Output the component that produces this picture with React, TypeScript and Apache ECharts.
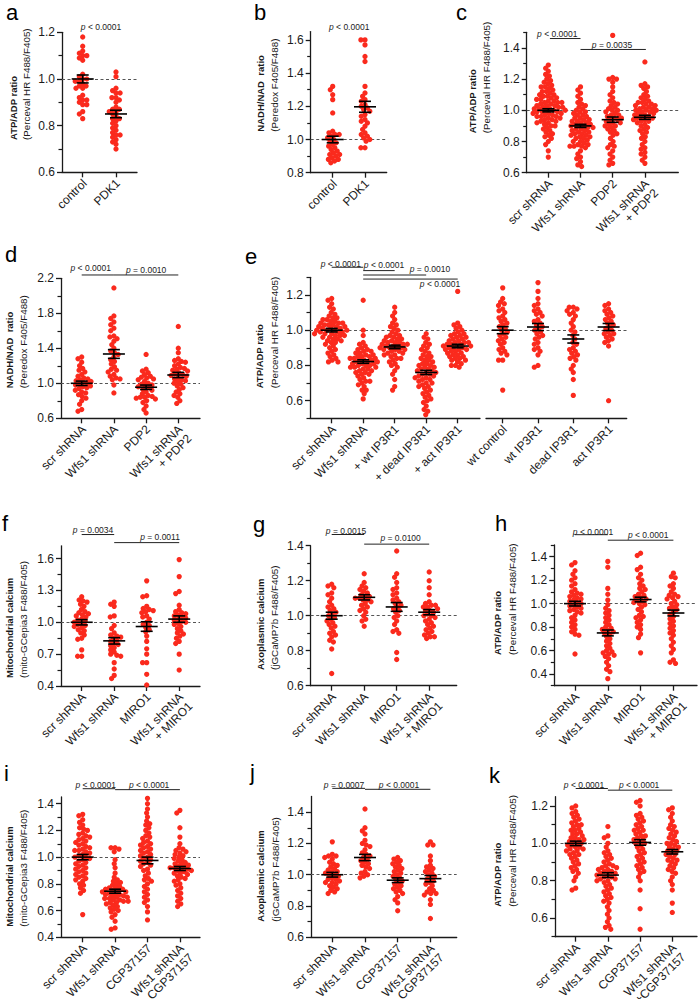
import React, { useEffect, useRef } from "react";
import * as echarts from "echarts";

const FONT = '"Liberation Sans", Arial, Helvetica, sans-serif';
const RED = "#fa2a1d";
const INK = "#1a1a1a";

// ---------------- data ----------------
// panel a
const catsA = ["control", "PDK1"];
const aControl = [1.18, 1.14, 1.12, 1.11, 1.10, 1.10, 1.09, 1.08, 1.02, 1.01, 1.00, 1.00, 0.99, 0.99, 0.98, 0.97, 0.97, 0.96, 0.96, 0.93, 0.92, 0.91, 0.91, 0.90, 0.89, 0.89, 0.86, 0.85, 0.83];
const aPDK1 = [1.03, 1.01, 0.96, 0.95, 0.94, 0.94, 0.92, 0.92, 0.91, 0.90, 0.88, 0.87, 0.87, 0.86, 0.86, 0.85, 0.84, 0.83, 0.83, 0.82, 0.81, 0.80, 0.79, 0.78, 0.77, 0.76, 0.76, 0.75, 0.74, 0.73, 0.72, 0.70];
const meanA = [1.0, 0.85];
const semA = [0.017, 0.016];
const yTicksA = [0.6, 0.8, 1.0, 1.2];
const yMinorA = [0.7, 0.9, 1.1];
const pA = ["p < 0.0001"];

// panel b
const catsB = ["control", "PDK1"];
const bControl = [1.32, 1.30, 1.27, 1.24, 1.16, 1.05, 1.04, 1.03, 1.03, 1.02, 1.01, 1.00, 0.99, 0.98, 0.97, 0.96, 0.95, 0.94, 0.93, 0.92, 0.91, 0.91, 0.90, 0.89, 0.88, 0.88, 0.87, 0.86];
const bPDK1 = [1.60, 1.60, 1.57, 1.50, 1.47, 1.32, 1.28, 1.26, 1.24, 1.23, 1.21, 1.20, 1.19, 1.18, 1.17, 1.15, 1.14, 1.12, 1.11, 1.10, 1.08, 1.06, 1.04, 1.03, 1.02, 1.01, 1.00, 0.99, 0.95, 0.95];
const meanB = [1.0, 1.197];
const semB = [0.02, 0.033];
const yTicksB = [0.8, 1.0, 1.2, 1.4, 1.6];
const yMinorB = [0.9, 1.1, 1.3, 1.5];
const pB = ["p < 0.0001"];

// panel c
const catsC = ["scr shRNA", "Wfs1 shRNA", "PDP2", "Wfs1 shRNA\n+ PDP2"];
const cScr = [1.29, 1.27, 1.25, 1.23, 1.22, 1.20, 1.19, 1.18, 1.17, 1.16, 1.15, 1.15, 1.14, 1.13, 1.12, 1.12, 1.11, 1.10, 1.10, 1.09, 1.09, 1.08, 1.08, 1.07, 1.07, 1.06, 1.06, 1.05, 1.05, 1.05, 1.04, 1.04, 1.03, 1.03, 1.03, 1.02, 1.02, 1.02, 1.01, 1.01, 1.01, 1.00, 1.00, 1.00, 0.99, 0.99, 0.99, 0.98, 0.98, 0.98, 0.97, 0.97, 0.96, 0.96, 0.96, 0.95, 0.95, 0.94, 0.94, 0.93, 0.93, 0.92, 0.92, 0.91, 0.90, 0.90, 0.89, 0.88, 0.87, 0.86, 0.85, 0.84, 0.83, 0.82, 0.80, 0.78, 0.74, 0.70];
const cWfs1 = [1.15, 1.13, 1.11, 1.09, 1.07, 1.05, 1.04, 1.03, 1.02, 1.01, 1.00, 0.99, 0.99, 0.98, 0.97, 0.97, 0.96, 0.95, 0.95, 0.94, 0.94, 0.93, 0.93, 0.92, 0.92, 0.91, 0.91, 0.90, 0.90, 0.90, 0.89, 0.89, 0.88, 0.88, 0.87, 0.87, 0.86, 0.86, 0.85, 0.85, 0.84, 0.84, 0.83, 0.83, 0.82, 0.82, 0.81, 0.80, 0.80, 0.79, 0.78, 0.78, 0.77, 0.77, 0.77, 0.76, 0.74, 0.72, 0.70, 0.69, 0.67, 0.65, 0.64];
const cPDP2 = [1.48, 1.21, 1.20, 1.20, 1.18, 1.15, 1.12, 1.10, 1.08, 1.06, 1.05, 1.04, 1.03, 1.02, 1.01, 1.00, 1.00, 0.99, 0.98, 0.97, 0.97, 0.96, 0.95, 0.95, 0.94, 0.94, 0.93, 0.92, 0.92, 0.91, 0.90, 0.90, 0.89, 0.88, 0.87, 0.86, 0.85, 0.84, 0.82, 0.80, 0.78, 0.77, 0.76, 0.74, 0.72, 0.70, 0.68, 0.66, 0.65];
const cWfs1PDP2 = [1.31, 1.17, 1.16, 1.15, 1.14, 1.12, 1.10, 1.09, 1.08, 1.07, 1.06, 1.05, 1.05, 1.04, 1.04, 1.03, 1.03, 1.02, 1.02, 1.01, 1.01, 1.00, 1.00, 1.00, 0.99, 0.99, 0.98, 0.98, 0.97, 0.97, 0.96, 0.96, 0.95, 0.95, 0.94, 0.94, 0.93, 0.93, 0.92, 0.91, 0.90, 0.89, 0.88, 0.87, 0.86, 0.85, 0.83, 0.82, 0.80, 0.78, 0.76, 0.75, 0.73, 0.72, 0.70, 0.68, 0.66];
const meanC = [1.0, 0.90, 0.94, 0.955];
const semC = [0.01, 0.01, 0.017, 0.013];
const yTicksC = [0.6, 0.8, 1.0, 1.2, 1.4];
const yMinorC = [0.7, 0.9, 1.1, 1.3, 1.5];
const pC = ["p < 0.0001", "p = 0.0035"];

// panel d
const catsD = ["scr shRNA", "Wfs1 shRNA", "PDP2", "Wfs1 shRNA\n+ PDP2"];
const dScr = [1.30, 1.28, 1.24, 1.20, 1.17, 1.15, 1.13, 1.10, 1.08, 1.06, 1.05, 1.04, 1.03, 1.02, 1.01, 1.00, 0.99, 0.98, 0.97, 0.96, 0.95, 0.94, 0.92, 0.90, 0.89, 0.87, 0.85, 0.83, 0.80, 0.76, 0.70, 0.68];
const dWfs1 = [2.09, 1.77, 1.74, 1.70, 1.67, 1.63, 1.60, 1.54, 1.53, 1.51, 1.48, 1.44, 1.40, 1.37, 1.35, 1.33, 1.30, 1.27, 1.25, 1.22, 1.19, 1.16, 1.15, 1.13, 1.10, 1.08, 1.06, 1.05, 1.04, 0.98, 0.89];
const dPDP2 = [1.33, 1.16, 1.14, 1.12, 1.10, 1.08, 1.07, 1.06, 1.05, 1.04, 1.02, 1.00, 0.99, 0.98, 0.97, 0.96, 0.95, 0.93, 0.92, 0.90, 0.88, 0.86, 0.85, 0.84, 0.84, 0.83, 0.82, 0.80, 0.78, 0.74, 0.70, 0.66];
const dWfs1PDP2 = [1.65, 1.40, 1.35, 1.28, 1.26, 1.25, 1.24, 1.22, 1.20, 1.18, 1.17, 1.16, 1.15, 1.14, 1.12, 1.11, 1.10, 1.09, 1.08, 1.07, 1.05, 1.04, 1.03, 1.02, 1.00, 0.99, 0.97, 0.95, 0.93, 0.90, 0.88, 0.86, 0.84, 0.80, 0.77];
const meanD = [1.0, 1.335, 0.955, 1.095];
const semD = [0.025, 0.05, 0.025, 0.03];
const yTicksD = [0.6, 1.0, 1.4, 1.8, 2.2];
const yMinorD = [0.8, 1.2, 1.6, 2.0];
const pD = ["p < 0.0001", "p = 0.0010"];

// panel e (left part: knock-down series, right part: wild type series)
const catsE1 = ["scr shRNA", "Wfs1 shRNA", "+ wt IP3R1", "+ dead IP3R1", "+ act IP3R1"];
const catsE2 = ["wt control", "wt IP3R1", "dead IP3R1", "act IP3R1"];
const eScr = [1.18, 1.17, 1.15, 1.13, 1.12, 1.10, 1.09, 1.08, 1.07, 1.07, 1.06, 1.06, 1.05, 1.05, 1.04, 1.04, 1.04, 1.03, 1.03, 1.03, 1.02, 1.02, 1.02, 1.01, 1.01, 1.01, 1.00, 1.00, 1.00, 1.00, 0.99, 0.99, 0.99, 0.98, 0.98, 0.98, 0.97, 0.97, 0.97, 0.96, 0.96, 0.95, 0.95, 0.94, 0.94, 0.93, 0.93, 0.92, 0.91, 0.90, 0.89, 0.88, 0.87, 0.86, 0.85, 0.84, 0.83, 0.82, 0.82];
const eWfs1 = [1.17, 1.00, 0.97, 0.93, 0.92, 0.91, 0.90, 0.89, 0.89, 0.88, 0.88, 0.87, 0.87, 0.86, 0.86, 0.85, 0.85, 0.85, 0.84, 0.84, 0.84, 0.83, 0.83, 0.83, 0.82, 0.82, 0.82, 0.81, 0.81, 0.81, 0.80, 0.80, 0.80, 0.79, 0.79, 0.79, 0.78, 0.78, 0.77, 0.77, 0.76, 0.76, 0.75, 0.75, 0.74, 0.73, 0.72, 0.71, 0.71, 0.70, 0.69, 0.68, 0.66, 0.66, 0.64, 0.61];
const eWt = [1.13, 1.10, 1.08, 1.06, 1.04, 1.03, 1.02, 1.01, 1.00, 0.99, 0.98, 0.97, 0.97, 0.96, 0.96, 0.95, 0.95, 0.94, 0.94, 0.93, 0.93, 0.93, 0.92, 0.92, 0.92, 0.91, 0.91, 0.91, 0.90, 0.90, 0.90, 0.89, 0.89, 0.89, 0.88, 0.88, 0.87, 0.87, 0.86, 0.86, 0.85, 0.84, 0.84, 0.83, 0.82, 0.81, 0.80, 0.79, 0.77, 0.75, 0.72, 0.68, 0.66];
const eDead = [0.98, 0.96, 0.95, 0.93, 0.92, 0.91, 0.90, 0.89, 0.88, 0.87, 0.86, 0.85, 0.85, 0.84, 0.83, 0.83, 0.82, 0.81, 0.81, 0.80, 0.80, 0.79, 0.79, 0.78, 0.78, 0.77, 0.77, 0.76, 0.76, 0.75, 0.75, 0.74, 0.74, 0.73, 0.73, 0.72, 0.72, 0.71, 0.70, 0.70, 0.69, 0.68, 0.68, 0.67, 0.66, 0.65, 0.64, 0.63, 0.62, 0.61, 0.60, 0.59, 0.57, 0.55, 0.54, 0.52];
const eAct = [1.22, 1.04, 1.03, 1.02, 1.01, 1.00, 0.99, 0.98, 0.98, 0.97, 0.97, 0.96, 0.96, 0.95, 0.95, 0.94, 0.94, 0.93, 0.93, 0.93, 0.92, 0.92, 0.92, 0.91, 0.91, 0.91, 0.90, 0.90, 0.90, 0.89, 0.89, 0.89, 0.88, 0.88, 0.87, 0.87, 0.86, 0.86, 0.85, 0.85, 0.84, 0.84, 0.83, 0.83, 0.82, 0.81, 0.80, 0.80, 0.79];
const eWtControl = [1.24, 1.18, 1.16, 1.15, 1.14, 1.12, 1.11, 1.10, 1.08, 1.07, 1.06, 1.05, 1.04, 1.03, 1.02, 1.01, 1.00, 0.99, 0.98, 0.97, 0.96, 0.95, 0.94, 0.93, 0.92, 0.90, 0.89, 0.88, 0.87, 0.86, 0.83, 0.83, 0.66];
const eWtIP3R1 = [1.27, 1.22, 1.18, 1.15, 1.14, 1.12, 1.11, 1.10, 1.09, 1.08, 1.06, 1.05, 1.04, 1.03, 1.02, 1.01, 1.00, 0.99, 0.98, 0.97, 0.96, 0.95, 0.93, 0.92, 0.90, 0.89, 0.88, 0.86, 0.80, 0.79];
const eDeadIP3R1 = [1.13, 1.13, 1.12, 1.11, 1.10, 1.09, 1.08, 1.06, 1.04, 1.02, 1.00, 0.99, 0.97, 0.95, 0.93, 0.92, 0.90, 0.89, 0.88, 0.87, 0.86, 0.85, 0.84, 0.83, 0.80, 0.78, 0.76, 0.72, 0.63];
const eActIP3R1 = [1.15, 1.14, 1.12, 1.11, 1.10, 1.09, 1.08, 1.07, 1.06, 1.05, 1.04, 1.03, 1.02, 1.01, 1.00, 0.99, 0.98, 0.98, 0.97, 0.96, 0.95, 0.94, 0.93, 0.91, 0.60];
const meanE1 = [1.0, 0.822, 0.905, 0.76, 0.91];
const semE1 = [0.01, 0.01, 0.01, 0.012, 0.01];
const meanE2 = [1.0, 1.018, 0.95, 1.018];
const semE2 = [0.02, 0.02, 0.023, 0.02];
const yTicksE = [0.6, 0.8, 1.0, 1.2];
const yMinorE = [0.5, 0.7, 0.9, 1.1, 1.3];
const pE = ["p < 0.0001", "p < 0.0001", "p = 0.0010", "p < 0.0001"];

// panel f
const catsF = ["scr shRNA", "Wfs1 shRNA", "MIRO1", "Wfs1 shRNA\n+ MIRO1"];
const fScr = [1.24, 1.21, 1.20, 1.19, 1.17, 1.15, 1.12, 1.10, 1.09, 1.08, 1.07, 1.06, 1.05, 1.03, 1.02, 1.01, 1.00, 0.99, 0.98, 0.97, 0.96, 0.95, 0.93, 0.92, 0.90, 0.88, 0.85, 0.84, 0.74, 0.68, 0.68];
const fWfs1 = [1.19, 1.17, 1.15, 1.06, 1.05, 0.97, 0.94, 0.90, 0.88, 0.87, 0.86, 0.85, 0.83, 0.82, 0.80, 0.79, 0.78, 0.76, 0.74, 0.72, 0.70, 0.69, 0.68, 0.62, 0.56, 0.50, 0.47];
const fMIRO1 = [1.39, 1.25, 1.24, 1.15, 1.13, 1.12, 1.11, 1.10, 1.09, 1.06, 1.05, 1.03, 1.00, 0.98, 0.97, 0.95, 0.93, 0.91, 0.87, 0.82, 0.75, 0.70, 0.62, 0.62, 0.51, 0.41];
const fWfs1MIRO1 = [1.59, 1.43, 1.29, 1.27, 1.16, 1.12, 1.10, 1.09, 1.08, 1.07, 1.06, 1.05, 1.04, 1.03, 1.02, 1.01, 1.00, 0.99, 0.98, 0.96, 0.94, 0.92, 0.90, 0.89, 0.87, 0.85, 0.82, 0.80, 0.70, 0.55];
const meanF = [1.0, 0.825, 0.96, 1.03];
const semF = [0.025, 0.03, 0.045, 0.03];
const yTicksF = [0.4, 0.7, 1.0, 1.3, 1.6];
const yMinorF = [0.55, 0.85, 1.15, 1.45];
const pF = ["p = 0.0034", "p = 0.0011"];

// panel g
const catsG = ["scr shRNA", "Wfs1 shRNA", "MIRO1", "Wfs1 shRNA\n+ MIRO1"];
const gScr = [1.18, 1.17, 1.16, 1.13, 1.12, 1.10, 1.08, 1.06, 1.05, 1.04, 1.03, 1.02, 1.01, 1.00, 0.99, 0.98, 0.97, 0.96, 0.95, 0.94, 0.93, 0.91, 0.90, 0.89, 0.88, 0.86, 0.85, 0.81, 0.67];
const gWfs1 = [1.24, 1.19, 1.17, 1.16, 1.15, 1.14, 1.13, 1.12, 1.11, 1.11, 1.10, 1.10, 1.09, 1.09, 1.08, 1.07, 1.06, 1.05, 1.04, 1.03, 1.02, 1.00, 0.98, 0.97, 0.94];
const gMIRO1 = [1.37, 1.24, 1.22, 1.19, 1.16, 1.15, 1.13, 1.12, 1.10, 1.09, 1.08, 1.07, 1.06, 1.05, 1.04, 1.03, 1.02, 1.00, 0.99, 0.97, 0.95, 0.92, 0.91, 0.90, 0.79, 0.75];
const gWfs1MIRO1 = [1.25, 1.20, 1.16, 1.12, 1.08, 1.07, 1.06, 1.06, 1.05, 1.05, 1.04, 1.03, 1.03, 1.02, 1.01, 1.00, 1.00, 0.99, 0.98, 0.97, 0.96, 0.95, 0.94, 0.93, 0.92, 0.91, 0.90, 0.89, 0.88, 0.88, 0.87];
const meanG = [1.0, 1.105, 1.05, 1.02];
const semG = [0.02, 0.015, 0.025, 0.015];
const yTicksG = [0.6, 0.8, 1.0, 1.2, 1.4];
const yMinorG = [0.7, 0.9, 1.1, 1.3];
const pG = ["p = 0.0015", "p = 0.0100"];

// panel h
const catsH = ["scr shRNA", "Wfs1 shRNA", "MIRO1", "Wfs1 shRNA\n+ MIRO1"];
const hScr = [1.35, 1.33, 1.28, 1.25, 1.22, 1.20, 1.17, 1.15, 1.12, 1.10, 1.09, 1.08, 1.07, 1.06, 1.05, 1.04, 1.03, 1.02, 1.01, 1.00, 0.99, 0.98, 0.97, 0.96, 0.95, 0.94, 0.93, 0.92, 0.90, 0.88, 0.86, 0.84, 0.82, 0.80, 0.78, 0.76, 0.74, 0.73, 0.57];
const hWfs1 = [1.36, 1.31, 1.13, 1.08, 1.03, 0.99, 0.96, 0.94, 0.92, 0.90, 0.88, 0.86, 0.84, 0.82, 0.80, 0.79, 0.78, 0.77, 0.76, 0.75, 0.74, 0.72, 0.70, 0.68, 0.66, 0.64, 0.62, 0.60, 0.59, 0.58, 0.57, 0.56, 0.55, 0.53, 0.50, 0.47, 0.44, 0.42, 0.36];
const hMIRO1 = [1.43, 1.41, 1.31, 1.29, 1.25, 1.22, 1.20, 1.17, 1.15, 1.13, 1.12, 1.10, 1.08, 1.07, 1.06, 1.05, 1.04, 1.03, 1.02, 1.01, 1.00, 0.99, 0.97, 0.95, 0.93, 0.90, 0.89, 0.88, 0.86, 0.84, 0.82, 0.80, 0.78, 0.74, 0.71, 0.58];
const hWfs1MIRO1 = [1.26, 1.23, 1.22, 1.17, 1.15, 1.13, 1.10, 1.08, 1.07, 1.06, 1.05, 1.04, 1.02, 1.00, 0.99, 0.97, 0.96, 0.95, 0.93, 0.91, 0.89, 0.87, 0.85, 0.83, 0.81, 0.79, 0.77, 0.75, 0.73, 0.70, 0.67, 0.64, 0.61, 0.58, 0.52, 0.50, 0.49];
const meanH = [1.0, 0.75, 1.035, 0.92];
const semH = [0.02, 0.025, 0.02, 0.025];
const yTicksH = [0.4, 0.6, 0.8, 1.0, 1.2, 1.4];
const yMinorH = [0.3, 0.5, 0.7, 0.9, 1.1, 1.3, 1.5];
const pH = ["p < 0.0001", "p < 0.0001"];

// panel i
const catsI = ["scr shRNA", "Wfs1 shRNA", "CGP37157", "Wfs1 shRNA\n+ CGP37157"];
const iScr = [1.32, 1.31, 1.28, 1.26, 1.24, 1.22, 1.21, 1.20, 1.18, 1.17, 1.16, 1.15, 1.14, 1.13, 1.12, 1.11, 1.10, 1.09, 1.08, 1.07, 1.06, 1.05, 1.05, 1.04, 1.03, 1.02, 1.01, 1.00, 1.00, 0.99, 0.98, 0.97, 0.96, 0.95, 0.94, 0.93, 0.92, 0.91, 0.90, 0.89, 0.88, 0.87, 0.86, 0.85, 0.84, 0.83, 0.82, 0.80, 0.79, 0.77, 0.75, 0.73, 0.57];
const iWfs1 = [1.07, 1.07, 1.06, 1.04, 0.98, 0.95, 0.92, 0.88, 0.85, 0.83, 0.82, 0.81, 0.80, 0.79, 0.78, 0.77, 0.77, 0.76, 0.76, 0.75, 0.75, 0.74, 0.74, 0.73, 0.73, 0.72, 0.72, 0.71, 0.71, 0.70, 0.70, 0.69, 0.69, 0.68, 0.68, 0.67, 0.67, 0.66, 0.66, 0.65, 0.64, 0.63, 0.62, 0.61, 0.60, 0.59, 0.57, 0.55, 0.52, 0.47, 0.46];
const iCGP = [1.44, 1.40, 1.36, 1.33, 1.30, 1.27, 1.25, 1.24, 1.22, 1.20, 1.18, 1.16, 1.15, 1.14, 1.12, 1.11, 1.10, 1.09, 1.08, 1.07, 1.06, 1.05, 1.04, 1.03, 1.02, 1.01, 1.00, 0.99, 0.98, 0.97, 0.96, 0.95, 0.94, 0.93, 0.91, 0.90, 0.88, 0.86, 0.84, 0.83, 0.82, 0.80, 0.78, 0.76, 0.74, 0.72, 0.70, 0.68, 0.66, 0.63, 0.59, 0.53];
const iWfs1CGP = [1.35, 1.33, 1.22, 1.15, 1.10, 1.07, 1.06, 1.05, 1.04, 1.03, 1.02, 1.01, 1.00, 0.99, 0.98, 0.97, 0.96, 0.95, 0.95, 0.94, 0.93, 0.93, 0.92, 0.92, 0.91, 0.91, 0.90, 0.90, 0.89, 0.88, 0.88, 0.87, 0.86, 0.85, 0.84, 0.83, 0.82, 0.80, 0.79, 0.77, 0.75, 0.73, 0.71, 0.69, 0.67, 0.65, 0.63];
const meanI = [1.0, 0.745, 0.975, 0.915];
const semI = [0.02, 0.015, 0.025, 0.015];
const yTicksI = [0.4, 0.6, 0.8, 1.0, 1.2, 1.4];
const yMinorI = [0.5, 0.7, 0.9, 1.1, 1.3];
const pI = ["p < 0.0001", "p < 0.0001"];

// panel j
const catsJ = ["scr shRNA", "Wfs1 shRNA", "CGP37157", "Wfs1 shRNA\n+ CGP37157"];
const jScr = [1.21, 1.13, 1.12, 1.12, 1.11, 1.10, 1.08, 1.07, 1.06, 1.05, 1.04, 1.03, 1.02, 1.02, 1.01, 1.00, 1.00, 0.99, 0.98, 0.97, 0.97, 0.96, 0.95, 0.95, 0.94, 0.93, 0.92, 0.91, 0.90, 0.89, 0.88];
const jWfs1 = [1.42, 1.30, 1.28, 1.26, 1.22, 1.20, 1.19, 1.18, 1.16, 1.14, 1.13, 1.12, 1.11, 1.10, 1.09, 1.08, 1.07, 1.06, 1.05, 1.04, 1.02, 1.01, 1.00, 0.99, 0.98];
const jCGP = [1.11, 1.10, 1.09, 1.08, 1.07, 1.06, 1.05, 1.04, 1.03, 1.02, 1.01, 1.00, 0.99, 0.98, 0.97, 0.96, 0.95, 0.94, 0.93, 0.92, 0.91, 0.90, 0.89, 0.88, 0.86, 0.84, 0.82, 0.77];
const jWfs1CGP = [1.21, 1.19, 1.19, 1.12, 1.09, 1.06, 1.05, 1.04, 1.03, 1.02, 1.01, 1.00, 0.99, 0.98, 0.97, 0.96, 0.95, 0.94, 0.93, 0.91, 0.90, 0.89, 0.88, 0.88, 0.87, 0.84, 0.81, 0.72];
const meanJ = [1.0, 1.11, 0.965, 0.975];
const semJ = [0.015, 0.02, 0.015, 0.02];
const yTicksJ = [0.6, 0.8, 1.0, 1.2, 1.4];
const yMinorJ = [0.7, 0.9, 1.1, 1.3];
const pJ = ["p = 0.0007", "p < 0.0001"];

// panel k
const catsK = ["scr shRNA", "Wfs1 shRNA", "CGP37157", "Wfs1 shRNA\n+CGP37157"];
const kScr = [1.20, 1.19, 1.17, 1.16, 1.15, 1.14, 1.13, 1.12, 1.11, 1.10, 1.10, 1.09, 1.08, 1.07, 1.07, 1.06, 1.05, 1.05, 1.04, 1.03, 1.03, 1.02, 1.02, 1.01, 1.01, 1.00, 1.00, 0.99, 0.99, 0.98, 0.98, 0.97, 0.97, 0.96, 0.96, 0.95, 0.94, 0.94, 0.93, 0.92, 0.91, 0.90, 0.89, 0.88, 0.87, 0.86, 0.85, 0.84, 0.82, 0.80, 0.76, 0.75];
const kWfs1 = [1.09, 1.04, 1.03, 1.00, 0.98, 0.96, 0.95, 0.94, 0.93, 0.92, 0.91, 0.90, 0.89, 0.88, 0.88, 0.87, 0.87, 0.86, 0.86, 0.85, 0.85, 0.84, 0.84, 0.83, 0.83, 0.82, 0.82, 0.81, 0.81, 0.80, 0.80, 0.79, 0.78, 0.77, 0.76, 0.75, 0.74, 0.73, 0.72, 0.71, 0.70, 0.69, 0.68, 0.66, 0.64, 0.62, 0.60, 0.58, 0.56, 0.55, 0.54];
const kCGP = [1.23, 1.22, 1.20, 1.16, 1.15, 1.14, 1.13, 1.12, 1.11, 1.10, 1.09, 1.08, 1.07, 1.07, 1.06, 1.05, 1.04, 1.04, 1.03, 1.02, 1.02, 1.01, 1.00, 1.00, 0.99, 0.98, 0.97, 0.96, 0.95, 0.94, 0.93, 0.92, 0.91, 0.90, 0.89, 0.88, 0.87, 0.86, 0.85, 0.84, 0.82, 0.80, 0.75, 0.65, 0.54];
const kWfs1CGP = [1.19, 1.18, 1.16, 1.14, 1.12, 1.10, 1.09, 1.08, 1.07, 1.06, 1.05, 1.04, 1.03, 1.02, 1.01, 1.00, 1.00, 0.99, 0.98, 0.98, 0.97, 0.96, 0.96, 0.95, 0.94, 0.94, 0.93, 0.92, 0.91, 0.91, 0.90, 0.89, 0.88, 0.87, 0.86, 0.85, 0.84, 0.82, 0.80, 0.78, 0.75, 0.68, 0.63];
const meanK = [1.0, 0.83, 1.005, 0.955];
const semK = [0.012, 0.013, 0.015, 0.012];
const yTicksK = [0.6, 0.8, 1.0, 1.2];
const yMinorK = [0.5, 0.7, 0.9, 1.1];
const pK = ["p < 0.0001", "p < 0.0001"];

// ---------------- layout (pixels / annotation anchors) ----------------
type Plot = {
  left: number; width: number; top: number; height: number;
  cat0: number; sp: number; yMin: number; yMax: number;
  majors: number[]; minors: number[]; showY: boolean;
  cats: string[]; groups: number[][]; means: number[]; sems: number[];
  lines: number[][]; texts: number[][]; pLabels: string[];
};

const plots: Plot[] = [
  { left: 62, width: 75, top: 32.3, height: 140, cat0: 82.7, sp: 33.3, yMin: 0.6, yMax: 1.2, majors: yTicksA, minors: yMinorA, showY: true, cats: catsA, groups: [aControl, aPDK1], means: meanA, sems: semA, lines: [], texts: [[0.55, 1.223]], pLabels: pA },
  { left: 310.7, width: 76, top: 31.6, height: 141.1, cat0: 332.7, sp: 32.3, yMin: 0.8, yMax: 1.65, majors: yTicksB, minors: yMinorB, showY: true, cats: catsB, groups: [bControl, bPDK1], means: meanB, sems: semB, lines: [], texts: [[0.51, 1.676]], pLabels: pB },
  { left: 526.7, width: 151.6, top: 32.3, height: 140.4, cat0: 548.3, sp: 32.2, yMin: 0.6, yMax: 1.5, majors: yTicksC, minors: yMinorC, showY: true, cats: catsC, groups: [cScr, cWfs1, cPDP2, cWfs1PDP2], means: meanC, sems: semC, lines: [[0.05, 1, 1.46], [1, 3.03, 1.39]], texts: [[0.28, 1.492], [1.98, 1.42]], pLabels: pC },
  { left: 61, width: 139, top: 278.3, height: 140, cat0: 81.7, sp: 32.2, yMin: 0.6, yMax: 2.2, majors: yTicksD, minors: yMinorD, showY: true, cats: catsD, groups: [dScr, dWfs1, dPDP2, dWfs1PDP2], means: meanD, sems: semD, lines: [[0, 1, 2.238], [1, 3, 2.238]], texts: [[0.28, 2.314], [2.0, 2.295]], pLabels: pD },
  { left: 310, width: 170, top: 277.3, height: 141, cat0: 331.7, sp: 31.5, yMin: 0.5, yMax: 1.3, majors: yTicksE, minors: yMinorE, showY: true, cats: catsE1, groups: [eScr, eWfs1, eWt, eDead, eAct], means: meanE1, sems: semE1, lines: [[0, 1, 1.357], [1, 2, 1.338], [1, 3, 1.313], [1, 4, 1.29]], texts: [[0.29, 1.376], [1.66, 1.37], [3.12, 1.347], [3.44, 1.26]], pLabels: pE },
  { left: 486, width: 140.7, top: 277.3, height: 141, cat0: 502.7, sp: 35.3, yMin: 0.5, yMax: 1.3, majors: yTicksE, minors: [], showY: false, cats: catsE2, groups: [eWtControl, eWtIP3R1, eDeadIP3R1, eActIP3R1], means: meanE2, sems: semE2, lines: [], texts: [], pLabels: [] },
  { left: 61, width: 139, top: 545.8, height: 140.2, cat0: 81.7, sp: 32.5, yMin: 0.4, yMax: 1.72, majors: yTicksF, minors: yMinorF, showY: true, cats: catsF, groups: [fScr, fWfs1, fMIRO1, fWfs1MIRO1], means: meanF, sems: semF, lines: [[0, 1, 1.826], [1, 3, 1.75]], texts: [[0.35, 1.865], [2.41, 1.804]], pLabels: pF },
  { left: 310.7, width: 146, top: 545.7, height: 140, cat0: 331.7, sp: 32.5, yMin: 0.6, yMax: 1.4, majors: yTicksG, minors: yMinorG, showY: true, cats: catsG, groups: [gScr, gWfs1, gMIRO1, gWfs1MIRO1], means: meanG, sems: semG, lines: [[0, 1, 1.464], [1, 3, 1.409]], texts: [[0.44, 1.482], [2.12, 1.446]], pLabels: pG },
  { left: 554.3, width: 142.7, top: 545, height: 140.7, cat0: 575, sp: 32.8, yMin: 0.3, yMax: 1.5, majors: yTicksH, minors: yMinorH, showY: true, cats: catsH, groups: [hScr, hWfs1, hMIRO1, hWfs1MIRO1], means: meanH, sems: semH, lines: [[0, 1, 1.588], [1, 3, 1.541]], texts: [[0.55, 1.615], [2.23, 1.588]], pLabels: pH },
  { left: 61, width: 139, top: 797, height: 140.3, cat0: 82.7, sp: 32.4, yMin: 0.4, yMax: 1.45, majors: yTicksI, minors: yMinorI, showY: true, cats: catsI, groups: [iScr, iWfs1, iCGP, iWfs1CGP], means: meanI, sems: semI, lines: [[0, 1, 1.512], [1, 3, 1.505]], texts: [[0.40, 1.537], [2.05, 1.537]], pLabels: pI },
  { left: 311, width: 145.7, top: 796.5, height: 140.8, cat0: 332.3, sp: 32.7, yMin: 0.6, yMax: 1.5, majors: yTicksJ, minors: yMinorJ, showY: true, cats: catsJ, groups: [jScr, jWfs1, jCGP, jWfs1CGP], means: meanJ, sems: semJ, lines: [[0, 1, 1.552], [1, 3, 1.546]], texts: [[0.36, 1.573], [2.04, 1.573]], pLabels: pJ },
  { left: 555, width: 142, top: 796.7, height: 140, cat0: 575.7, sp: 32.2, yMin: 0.5, yMax: 1.25, majors: yTicksK, minors: yMinorK, showY: true, cats: catsK, groups: [kScr, kWfs1, kCGP, kWfs1CGP], means: meanK, sems: semK, lines: [[0, 1, 1.294], [1, 3, 1.285]], texts: [[0.26, 1.312], [1.97, 1.312]], pLabels: pK },
];

// panel letters: [letter, x, centerY]
const letters: [string, number, number][] = [
  ["a", 6, 12.3], ["b", 254, 12.3], ["c", 456, 12.3],
  ["d", 5, 254.3], ["e", 245, 256],
  ["f", 2, 523], ["g", 253, 524], ["h", 495, 523],
  ["i", 4, 773], ["j", 250, 772], ["k", 489, 775],
];

// y titles: [bold line, normal line, xBold, xNormal, bottomY]
const yTitles: [string, string, number, number, number][] = [
  ["ATP/ADP ratio", "(Perceval HR F488/F405)", 13, 26, 140],
  ["NADH/NAD  ratio", "(Peredox F405/F488)", 260, 274.7, 131.7],
  ["ATP/ADP ratio", "(Perceval HR F488/F405)", 472, 486, 133.3],
  ["NADH/NAD  ratio", "(Peredox F405/F488)", 9.7, 23.3, 388.3],
  ["ATP/ADP ratio", "(Perceval HR F488/F405)", 259.2, 274.7, 388.3],
  ["Mitochondrial calcium", "(mito-GCepia3 F488/F405)", 9, 23.3, 678],
  ["Axoplasmic calcium", "(jGCaMP7b F488/F405)", 260, 274.7, 670],
  ["ATP/ADP ratio", "(Perceval HR F488/F405)", 497, 512, 655],
  ["Mitochondrial calcium", "(mito-GCepia3 F488/F405)", 9, 23, 926.7],
  ["Axoplasmic calcium", "(jGCaMP7b F488/F405)", 260, 275, 921.7],
  ["ATP/ADP ratio", "(Perceval HR F488/F405)", 497, 512, 906.7],
];

const DOT = 5.3;
const SWARM_D = 4.1;
const LBL_FS = 12;
const LBL_LH = 13;
const LBL_DX = 2;
const LBL_DY = 9;
const P_FS = 8.5;

function swarm(values: number[], pxPerY: number, D: number): number[] {
  const order = values.map((_, i) => i).sort((p, q) => values[q] - values[p]);
  const placed: { x: number; y: number }[] = [];
  const out = new Array(values.length).fill(0);
  for (const i of order) {
    const y = values[i] * pxPerY;
    const iv: [number, number][] = [];
    for (const p of placed) {
      const dy = Math.abs(p.y - y);
      if (dy < D) {
        const w = Math.sqrt(D * D - dy * dy);
        iv.push([p.x - w, p.x + w]);
      }
    }
    const cands = [0];
    iv.forEach(([l, r]) => cands.push(l, r));
    cands.sort((m, n) => Math.abs(m) - Math.abs(n) || m - n);
    let x = 0;
    for (const c of cands) {
      if (iv.every(([l, r]) => c <= l + 1e-6 || c >= r - 1e-6)) { x = c; break; }
    }
    placed.push({ x, y });
    out[i] = x;
  }
  return out;
}

function pLabelRich(s: string) {
  return "{i|p}" + s.slice(1);
}

function buildOption() {
  const grid: any[] = [];
  const xAxis: any[] = [];
  const yAxis: any[] = [];
  const series: any[] = [];
  const graphic: any[] = [];

  plots.forEach((pl, k) => {
    grid.push({ left: pl.left, top: pl.top, width: pl.width, height: pl.height, containLabel: false, outerBoundsMode: "none" });
    const xMin = (pl.left - pl.cat0) / pl.sp;
    const xMax = (pl.left + pl.width - pl.cat0) / pl.sp;
    const catIdx = pl.cats.map((_, i) => i);
    xAxis.push({
      type: "value", gridIndex: k, min: xMin, max: xMax,
      axisLine: { show: true, onZero: false, lineStyle: { color: INK, width: 1.3 } },
      axisTick: { show: true, customValues: catIdx, length: 5, lineStyle: { color: INK, width: 1.3 } },
      axisLabel: { show: false },
      splitLine: { show: false },
    });
    const yMajorIdx = yAxis.length;
    yAxis.push({
      type: "value", gridIndex: k, min: pl.yMin, max: pl.yMax, show: pl.showY, position: "left",
      axisLine: { show: true, onZero: false, lineStyle: { color: INK, width: 1.3 } },
      axisTick: { show: true, customValues: pl.majors, length: 5, lineStyle: { color: INK, width: 1.3 } },
      axisLabel: { show: true, customValues: pl.majors, formatter: (v: number) => v.toFixed(1), fontSize: 12, color: INK, fontFamily: FONT, margin: 7 },
      splitLine: { show: false },
    });
    if (pl.minors.length) {
      yAxis.push({
        type: "value", gridIndex: k, min: pl.yMin, max: pl.yMax, position: "left", offset: 0,
        axisLine: { show: false, onZero: false },
        axisTick: { show: true, customValues: pl.minors, length: 3.5, lineStyle: { color: INK, width: 1.2 } },
        axisLabel: { show: false },
        splitLine: { show: false },
      });
    }

    // dots (beeswarm offsets computed from the values in pixel space)
    const pxPerY = pl.height / (pl.yMax - pl.yMin);
    const pts: number[][] = [];
    pl.groups.forEach((g, gi) => {
      const off = swarm(g, pxPerY, SWARM_D);
      g.forEach((v, i) => pts.push([gi + off[i] / pl.sp, v]));
    });
    series.push({
      type: "scatter", xAxisIndex: k, yAxisIndex: yMajorIdx, data: pts, symbolSize: DOT, silent: true,
      itemStyle: { color: RED, opacity: 1 }, z: 3,
      markLine: {
        silent: true, symbol: ["none", "none"], label: { show: false }, z: 1,
        lineStyle: { color: "#555", type: [3, 2.5], width: 1 },
        data: [{ yAxis: 1.0 }],
      },
    });

    // mean ± SEM
    series.push({
      type: "custom", xAxisIndex: k, yAxisIndex: yMajorIdx, silent: true, z: 5, clip: false,
      data: pl.means.map((m, i) => [i, m, pl.sems[i]]),
      encode: { x: 0, y: 1 },
      renderItem: (_p: any, api: any) => {
        const x = api.value(0), m = api.value(1), s = api.value(2);
        const c = api.coord([x, m]);
        const hi = api.coord([x, m + s]);
        const lo = api.coord([x, m - s]);
        const st = { stroke: "#000", lineWidth: 1.6 };
        return {
          type: "group",
          children: [
            { type: "line", shape: { x1: c[0] - 11, y1: c[1], x2: c[0] + 11, y2: c[1] }, style: st },
            { type: "line", shape: { x1: c[0], y1: hi[1], x2: c[0], y2: lo[1] }, style: st },
            { type: "line", shape: { x1: c[0] - 6, y1: hi[1], x2: c[0] + 6, y2: hi[1] }, style: st },
            { type: "line", shape: { x1: c[0] - 6, y1: lo[1], x2: c[0] + 6, y2: lo[1] }, style: st },
          ],
        };
      },
    });

    // significance lines
    if (pl.lines.length) {
      series.push({
        type: "custom", xAxisIndex: k, yAxisIndex: yMajorIdx, silent: true, z: 6, clip: false,
        data: pl.lines, encode: { x: [0, 1], y: 2 },
        renderItem: (_p: any, api: any) => {
          const a = api.coord([api.value(0), api.value(2)]);
          const b = api.coord([api.value(1), api.value(2)]);
          return { type: "line", shape: { x1: a[0], y1: a[1], x2: b[0], y2: b[1] }, style: { stroke: "#222", lineWidth: 1 } };
        },
      });
    }
    if (pl.texts.length) {
      const labels = pl.pLabels;
      series.push({
        type: "custom", xAxisIndex: k, yAxisIndex: yMajorIdx, silent: true, z: 6, clip: false,
        data: pl.texts, encode: { x: 0, y: 1 },
        renderItem: (p: any, api: any) => {
          const c = api.coord([api.value(0), api.value(1)]);
          return {
            type: "text", x: c[0], y: c[1],
            style: {
              text: pLabelRich(labels[p.dataIndex]), fontSize: P_FS, fontFamily: FONT, fill: "#222",
              align: "center", verticalAlign: "middle",
              rich: { i: { fontStyle: "italic", fontSize: P_FS, fontFamily: FONT, fill: "#222" } },
            },
          };
        },
      });
    }

    // category labels
    const axisY = pl.top + pl.height;
    pl.cats.forEach((name, i) => {
      const cx = pl.cat0 + i * pl.sp;
      graphic.push({
        type: "text", x: cx + LBL_DX, y: axisY + LBL_DY, rotation: Math.PI / 4, silent: true,
        style: { text: name, x: 0, y: -LBL_LH / 2, align: "right", verticalAlign: "top", fontSize: LBL_FS, lineHeight: LBL_LH, fontFamily: FONT, fill: INK },
      });
    });
  });

  letters.forEach(([t, x, y]) => {
    graphic.push({ type: "text", x, y, silent: true, style: { text: t, fontSize: 22, fontFamily: FONT, fill: "#000", align: "left", verticalAlign: "middle" } });
  });
  yTitles.forEach(([t1, t2, xb, xn, bot]) => {
    graphic.push({ type: "text", x: xb, y: bot, rotation: Math.PI / 2, silent: true, style: { text: t1, fontSize: 9.5, fontWeight: "bold", fontFamily: FONT, fill: INK, align: "left", verticalAlign: "middle" } });
    graphic.push({ type: "text", x: xn, y: bot, rotation: Math.PI / 2, silent: true, style: { text: t2, fontSize: 9.8, fontFamily: FONT, fill: INK, align: "left", verticalAlign: "middle" } });
  });

  return {
    animation: false,
    backgroundColor: "#fff",
    grid, xAxis, yAxis, series, graphic,
  };
}

export default function App() {
  const ref = useRef<HTMLDivElement>(null);
  useEffect(() => {
    if (!ref.current) return;
    const chart = echarts.init(ref.current, null, { renderer: "svg" });
    chart.setOption(buildOption() as any);
    return () => chart.dispose();
  }, []);
  return <div ref={ref} style={{ position: "absolute", left: 0, top: 0, width: 698, height: 999, background: "#fff" }} />;
}
